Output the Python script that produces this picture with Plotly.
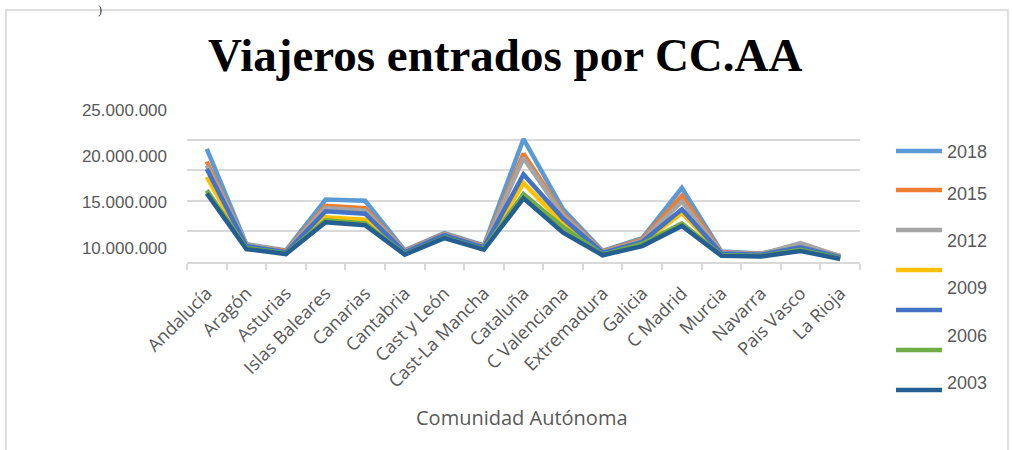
import plotly.graph_objects as go

# ---------------- data ----------------
categories = ["Andalucía", "Aragón", "Asturias", "Islas Baleares", "Canarias", "Cantabria",
              "Cast y León", "Cast-La Mancha", "Cataluña", "C Valenciana", "Extremadura",
              "Galicia", "C Madrid", "Murcia", "Navarra", "Pais Vasco", "La Rioja"]

s2018 = [18500000, 2900000, 1900000, 10200000, 10000000, 1900000, 4700000, 2700000, 20100000,
         8600000, 1800000, 3900000, 12100000, 1700000, 1400000, 2700000, 1000000]
s2015 = [16400000, 2800000, 1800000, 9200000, 8800000, 1800000, 4600000, 2600000, 17700000,
         7900000, 1700000, 3700000, 10800000, 1600000, 1300000, 2900000, 900000]
s2012 = [15800000, 2900000, 1700000, 8800000, 8400000, 1700000, 4500000, 2500000, 17000000,
         7600000, 1600000, 3500000, 9900000, 1500000, 1300000, 3100000, 900000]
s2009 = [13900000, 2500000, 1600000, 7300000, 6900000, 1500000, 4300000, 2300000, 12900000,
         6300000, 1400000, 3100000, 8000000, 1300000, 1100000, 2300000, 800000]
s2006 = [15200000, 2600000, 1600000, 8300000, 7900000, 1600000, 4400000, 2400000, 14300000,
         7100000, 1500000, 3300000, 8600000, 1400000, 1200000, 2400000, 800000]
s_green = [11700000, 2300000, 1400000, 6800000, 6300000, 1300000, 4000000, 2100000, 11100000,
           5700000, 1200000, 3000000, 6300000, 1100000, 1000000, 2000000, 600000]
s2003 = [11200000, 2100000, 1300000, 6500000, 6000000, 1200000, 3900000, 2000000, 10400000,
         4800000, 1100000, 2600000, 5900000, 1000000, 900000, 1800000, 500000]

series_values = [s2018, s2015, s2012, s2009, s2006, s_green, s2003]
series_names = ["2018", "2015", "2012", "2009", "2006", "", "2003"]
series_colors = ["#5B9BD5", "#ED7D31", "#A5A5A5", "#FFC000", "#4472C4", "#70AD47", "#255E91"]

legend_labels = ["2018", "2015", "2012", "2009", "2006", "2003"]
y_tick_values = [10000000, 15000000, 20000000, 25000000]

# ---------------- layout helpers ----------------
W, H = 1012, 450
L, R, T, B = 187, 152, 109, 188
PW, PH = W - L - R, H - T - B


def fx(px):
    return (px - L) / PW


def fy(py):
    return (H - B - py) / PH


GRID = "#d9d9d9"
TXT = "#595959"

fig = go.Figure()
for name, color, vals in zip(series_names, series_colors, series_values):
    fig.add_trace(go.Scatter(x=categories, y=vals, mode="lines", name=name,
                             line=dict(color=color, width=4.5), showlegend=False))
fig.add_trace(go.Scatter(x=[], y=[], yaxis="y2", showlegend=False, hoverinfo="skip"))

# legend (drawn manually to keep the original label placement)
legend_line_y = [151, 190, 230, 270, 310, 350, 390]
legend_label_y = [152, 194, 241, 288, 336, 383]
shapes = []
for color, ly in zip(series_colors, legend_line_y):
    shapes.append(dict(type="line", xref="paper", yref="paper", x0=fx(896), x1=fx(942),
                       y0=fy(ly), y1=fy(ly), line=dict(color=color, width=4.5)))
shapes.append(dict(type="rect", xref="paper", yref="paper", x0=fx(6), x1=fx(1008),
                   y0=fy(470), y1=fy(10), line=dict(color="#d4d4d4", width=1.5),
                   fillcolor="rgba(0,0,0,0)", layer="below"))

annotations = []
for lab, ly in zip(legend_labels, legend_label_y):
    annotations.append(dict(text=lab, xref="paper", yref="paper", x=fx(945), y=fy(ly),
                            xanchor="left", yanchor="middle", showarrow=False,
                            font=dict(family="Liberation Sans", size=18, color=TXT)))
annotations.append(dict(text="Viajeros entrados por CC.AA", xref="paper", yref="paper",
                        x=fx(505), y=fy(55), xanchor="center", yanchor="middle", showarrow=False,
                        font=dict(family="Liberation Serif", size=47, color="black", weight="bold")))
annotations.append(dict(text="Comunidad Autónoma", xref="paper", yref="paper",
                        x=fx(522), y=fy(417), xanchor="center", yanchor="middle", showarrow=False,
                        font=dict(family="Open Sans", size=20, color=TXT)))
annotations.append(dict(text=")", xref="paper", yref="paper",
                        x=fx(100), y=fy(1), xanchor="center", yanchor="top", showarrow=False,
                        font=dict(family="Liberation Serif", size=12, color="#333333")))

fig.update_layout(
    width=W, height=H,
    margin=dict(l=L, r=R, t=T, b=B),
    paper_bgcolor="white", plot_bgcolor="white",
    separators=",.",
    showlegend=False,
    shapes=shapes,
    annotations=annotations,
    xaxis=dict(type="category", range=[-0.5, len(categories) - 0.5], showgrid=False,
               showline=True, linecolor=GRID, linewidth=1.5, ticks="outside", ticklen=6,
               tickcolor=GRID, tickwidth=1.5, tickson="boundaries", tickangle=-45,
               ticklabelstandoff=12,
               tickfont=dict(family="Open Sans", size=18, color=TXT), zeroline=False),
    yaxis=dict(range=[0, 25000000], tick0=0, dtick=5000000, showgrid=True, gridcolor=GRID,
               gridwidth=1.5, showticklabels=False, zeroline=False, showline=False, ticks=""),
    yaxis2=dict(overlaying="y", side="left", range=[8478000, 25109000], tickvals=y_tick_values,
                tickformat=",.0f", showgrid=False, zeroline=False, showline=False, ticks="",
                ticklabelstandoff=19,
                tickfont=dict(family="Liberation Sans", size=17, color=TXT)),
)

fig.write_html("out.html")
